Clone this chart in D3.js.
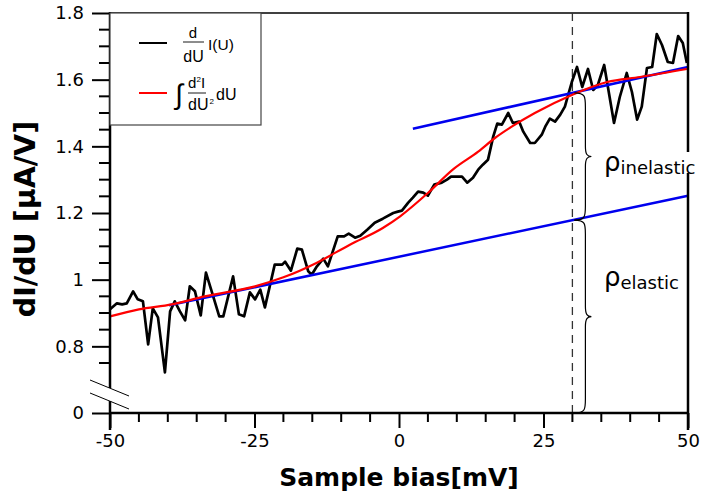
<!DOCTYPE html>
<html>
<head>
<meta charset="utf-8">
<script src="https://cdn.jsdelivr.net/npm/d3@7"></script>
<style>
  body { margin: 0; background: #fff; }
  text { font-family: "DejaVu Sans", sans-serif; }
</style>
</head>
<body>
<div id="chart"></div>
<script>
var width = 701;
var height = 491;
var margin = {left: 110, right: 13, top: 13, bottom: 78};

// measured dI/dU (black)
var biasValues = [-50.0, -48.8, -47.9, -47.1, -46.0, -45.2, -44.3, -43.4, -42.6, -41.7,
  -40.5, -39.6, -38.8, -37.9, -37.0, -36.2, -35.3, -34.3, -33.4, -32.5,
  -31.1, -30.4, -28.7, -27.7, -26.8, -25.8, -24.9, -24.0, -23.2, -21.5,
  -20.2, -19.7, -18.7, -17.6, -16.8, -15.7, -15.1, -14.2, -13.1, -12.3,
  -10.6, -9.5, -8.7, -7.6, -6.7, -5.5, -4.2, -2.8, -1.0, -0.2,
  0.5, 1.6, 2.4, 3.3, 4.2, 5.0, 6.1, 7.4, 8.3, 9.0,
  10.0, 10.9, 11.8, 12.8, 13.7, 14.5, 15.4, 16.3, 17.0, 17.8,
  18.9, 19.7, 20.8, 21.5, 22.7, 23.5, 24.7, 25.3, 26.1, 27.0,
  27.9, 28.7, 29.9, 30.8, 31.7, 32.7, 33.6, 34.4, 35.5, 37.2,
  38.2, 39.4, 40.3, 41.2, 42.0, 42.9, 43.8, 44.6, 45.5, 46.5,
  47.4, 48.3, 49.1, 49.8];
var diduValues = [0.911, 0.929, 0.926, 0.929, 0.965, 0.941, 0.935, 0.806, 0.914, 0.887,
  0.722, 0.905, 0.935, 0.905, 0.878, 0.980, 0.965, 0.893, 1.021, 0.970,
  0.890, 0.890, 1.010, 0.896, 0.890, 0.962, 0.941, 0.970, 0.917, 1.045,
  1.045, 1.054, 1.027, 1.093, 1.090, 1.025, 1.015, 1.040, 1.063, 1.040,
  1.130, 1.130, 1.138, 1.126, 1.132, 1.150, 1.171, 1.183, 1.200, 1.204,
  1.207, 1.231, 1.246, 1.264, 1.261, 1.252, 1.285, 1.291, 1.300, 1.309,
  1.309, 1.309, 1.291, 1.306, 1.330, 1.345, 1.360, 1.429, 1.468, 1.465,
  1.500, 1.470, 1.474, 1.444, 1.410, 1.410, 1.435, 1.459, 1.483, 1.474,
  1.495, 1.519, 1.593, 1.638, 1.578, 1.632, 1.569, 1.584, 1.644, 1.470,
  1.548, 1.620, 1.563, 1.480, 1.519, 1.635, 1.638, 1.737, 1.704, 1.653,
  1.650, 1.731, 1.710, 1.650];

// integrated d2I/dU2 (red)
var intBias = [-50, -45, -39.3, -33.6, -24.9, -20, -14.2, -8.5, -2.8, 0.2, 5, 9.3, 13.7, 16.6, 19.5, 23.5, 30, 36, 41.7, 49.8];
var intValues = [0.89, 0.911, 0.926, 0.95, 0.98, 1.007, 1.051, 1.105, 1.155, 1.19, 1.26, 1.33, 1.384, 1.425, 1.459, 1.5, 1.555, 1.593, 1.608, 1.632];

// linear fits (blue)
var elasticFit = [[-39.8, 0.923], [50, 1.252]];
var inelasticFit = [[2.4, 1.453], [50, 1.638]];

var markerBias = 30;
var yTickValues = [0.6, 0.8, 1.0, 1.2, 1.4, 1.6, 1.8];
var yTickLabels = ['0', '0.8', '1', '1.2', '1.4', '1.6', '1.8'];
var xTickValues = [-50, -25, 0, 25, 50];

var svg = d3.select('#chart').append('svg')
  .attr('width', width)
  .attr('height', height);

var x = d3.scaleLinear().domain([-50, 50]).range([margin.left, width - margin.right]);
// axis is broken: the bottom end (0.6) is labelled 0
var y = d3.scaleLinear().domain([0.6, 1.8]).range([height - margin.bottom, margin.top]);

var x0 = x(-50), x1 = x(50), y0 = y(0.6), y1 = y(1.8);

//top frame line
svg.append('line').attr('x1', x0).attr('x2', x1).attr('y1', y1).attr('y2', y1)
  .attr('stroke', '#000').attr('stroke-width', 1.5);

// dashed marker at 30 mV
svg.append('line')
  .attr('x1', x(markerBias)).attr('x2', x(markerBias))
  .attr('y1', y1).attr('y2', y0)
  .attr('stroke', '#333').attr('stroke-width', 1.3)
  .attr('stroke-dasharray', '8,6');

var lineGen = d3.line().x(function(d){ return x(d[0]); }).y(function(d){ return y(d[1]); });

// black measured
svg.append('path')
  .datum(biasValues.map(function(b, i){ return [b, diduValues[i]]; }))
  .attr('d', lineGen)
  .attr('fill', 'none').attr('stroke', '#000').attr('stroke-width', 2.7)
  .attr('stroke-linejoin', 'round');

// blue fits
[elasticFit, inelasticFit].forEach(function(f){
  svg.append('path').datum(f).attr('d', lineGen)
    .attr('fill', 'none').attr('stroke', '#0000ee').attr('stroke-width', 2.5);
});

// red integrated curve
svg.append('path')
  .datum(intBias.map(function(b, i){ return [b, intValues[i]]; }))
  .attr('d', lineGen.curve(d3.curveMonotoneX))
  .attr('fill', 'none').attr('stroke', '#ff0000').attr('stroke-width', 2.2);

// curly braces
function fitAt(f, xv){
  return f[0][1] + (f[1][1] - f[0][1]) * (xv - f[0][0]) / (f[1][0] - f[0][0]);
}
function brace(xs, ya, yb){
  var w = 11, tip = 6, ym = (ya + yb) / 2;
  return 'M' + xs + ',' + ya +
    ' C' + (xs + w) + ',' + ya + ' ' + (xs + w) + ',' + (ya + 4) + ' ' + (xs + w) + ',' + (ya + 14) +
    ' L' + (xs + w) + ',' + (ym - 10) +
    ' C' + (xs + w) + ',' + (ym - 2) + ' ' + (xs + w + 2) + ',' + ym + ' ' + (xs + w + tip) + ',' + ym +
    ' C' + (xs + w + 2) + ',' + ym + ' ' + (xs + w) + ',' + (ym + 2) + ' ' + (xs + w) + ',' + (ym + 10) +
    ' L' + (xs + w) + ',' + (yb - 14) +
    ' C' + (xs + w) + ',' + (yb - 4) + ' ' + (xs + w) + ',' + yb + ' ' + xs + ',' + yb;
}
var bx = x(markerBias) + 2;
var yUp = y(fitAt(inelasticFit, markerBias));
var yMid = y(fitAt(elasticFit, markerBias));
svg.append('path').attr('d', brace(bx, yUp, yMid))
  .attr('fill', 'none').attr('stroke', '#000').attr('stroke-width', 1.2);
svg.append('path').attr('d', brace(bx, yMid, y0))
  .attr('fill', 'none').attr('stroke', '#000').attr('stroke-width', 1.2);

// axes
var xAxis = d3.axisBottom(x).tickValues(xTickValues).tickSize(15).tickPadding(6)
  .tickFormat(function(d){ return String(d); });
var gx = svg.append('g').attr('transform', 'translate(0,' + y0 + ')').call(xAxis);
var xMinor = d3.range(-45, 50, 5).filter(function(v){ return v % 25 !== 0; });
gx.selectAll('.minor').data(xMinor).enter().append('line')
  .attr('x1', function(d){ return x(d); }).attr('x2', function(d){ return x(d); })
  .attr('y1', 0).attr('y2', 9).attr('stroke', '#000').attr('stroke-width', 2);

var yAxis = d3.axisLeft(y).tickValues(yTickValues).tickSize(18).tickPadding(8)
  .tickFormat(function(d, i){ return yTickLabels[i]; });
var gy = svg.append('g').attr('transform', 'translate(' + x0 + ',0)').call(yAxis);
var yMinor = d3.range(0.75, 1.8, 0.05).filter(function(v){
  return Math.abs(Math.round(v * 5) - v * 5) > 0.01;
});
gy.selectAll('.minor').data(yMinor).enter().append('line')
  .attr('x1', -11).attr('x2', 0)
  .attr('y1', function(d){ return y(d); }).attr('y2', function(d){ return y(d); })
  .attr('stroke', '#000').attr('stroke-width', 2);

[gx, gy].forEach(function(g){
  g.select('.domain').remove();
  g.selectAll('.tick line').attr('stroke-width', 2);
  g.selectAll('.tick text').style('font-size', '18px').attr('fill', '#000')
    .style('font-family', '"DejaVu Sans", sans-serif');
});

// axis lines drawn by hand so the left one can be broken
var breakLo = 401, breakHi = 388;
svg.append('line').attr('x1', x0).attr('x2', x0).attr('y1', y1 - 1).attr('y2', breakHi)
  .attr('stroke', '#000').attr('stroke-width', 2.5);
svg.append('line').attr('x1', x0).attr('x2', x0).attr('y1', breakLo).attr('y2', y0 + 17)
  .attr('stroke', '#000').attr('stroke-width', 2.5);
svg.append('line').attr('x1', x0).attr('x2', x1).attr('y1', y0).attr('y2', y0)
  .attr('stroke', '#000').attr('stroke-width', 2.5);
svg.append('line').attr('x1', x1).attr('x2', x1).attr('y1', y1 - 1).attr('y2', y0 + 17)
  .attr('stroke', '#000').attr('stroke-width', 2.5);
// break marks
[breakHi, breakLo].forEach(function(yy){
  svg.append('line').attr('x1', x0 - 20).attr('x2', x0 + 19)
    .attr('y1', yy - 8).attr('y2', yy + 8)
    .attr('stroke', '#000').attr('stroke-width', 1);
});

// rho labels
function rhoLabel(sub, ly){
  var bg = svg.append('rect').attr('fill', '#fff');
  var t = svg.append('text').attr('x', 604).attr('y', ly);
  t.append('tspan').text('ρ').style('font-size', '26px');
  t.append('tspan').text(sub).style('font-size', '18px').attr('dy', 3);
  var bb = t.node().getBBox();
  bg.attr('x', bb.x).attr('y', bb.y + 5)
    .attr('width', bb.width + 2).attr('height', bb.height - 10);
}
rhoLabel('inelastic', 171);
rhoLabel('elastic', 286);

// axis titles
svg.append('text').text('Sample bias[mV]')
  .attr('x', (x0 + x1) / 2).attr('y', 486)
  .attr('text-anchor', 'middle')
  .style('font-size', '25px').style('font-weight', 'bold');
svg.append('text').text('dI/dU [µA/V]')
  .attr('text-anchor', 'middle')
  .attr('transform', 'translate(35,' + 219 + ')rotate(-90)')
  .style('font-size', '28.5px').style('font-weight', 'bold');

// legend
var lg = svg.append('g');
lg.append('rect').attr('x', x0).attr('y', y1).attr('width', 151).attr('height', 112)
  .attr('fill', '#fff').attr('stroke', '#444').attr('stroke-width', 1.2);
var legF = 'Liberation Sans, Arial, sans-serif';
lg.append('line').attr('x1', 139).attr('x2', 167).attr('y1', 43).attr('y2', 43)
  .attr('stroke', '#000').attr('stroke-width', 2);
lg.append('line').attr('x1', 139).attr('x2', 167).attr('y1', 93).attr('y2', 93)
  .attr('stroke', '#ff0000').attr('stroke-width', 2);
function lt(s, lx, ly, fs, anchor){
  return lg.append('text').text(s).attr('x', lx).attr('y', ly)
    .attr('text-anchor', anchor || 'start')
    .style('font-family', legF).style('font-size', fs + 'px');
}
// d/dU I(U)
lt('d', 193, 38, 15, 'middle');
lg.append('line').attr('x1', 183).attr('x2', 204).attr('y1', 42).attr('y2', 42)
  .attr('stroke', '#000').attr('stroke-width', 0.9);
lt('dU', 193.5, 62, 16, 'middle');
lt('I(U)', 208, 50, 15.5);
// integral d2I/dU2 dU
lt('∫', 179, 104, 28, 'middle');
lt('d', 188, 88, 15);
lt('2', 196.5, 82, 8);
lt('I', 201, 88, 15);
lg.append('line').attr('x1', 188).attr('x2', 206).attr('y1', 93).attr('y2', 93)
  .attr('stroke', '#000').attr('stroke-width', 0.9);
lt('dU', 188, 110, 16);
lt('2', 209.5, 104, 8);
lt('dU', 216, 100, 16);
</script>
</body>
</html>
